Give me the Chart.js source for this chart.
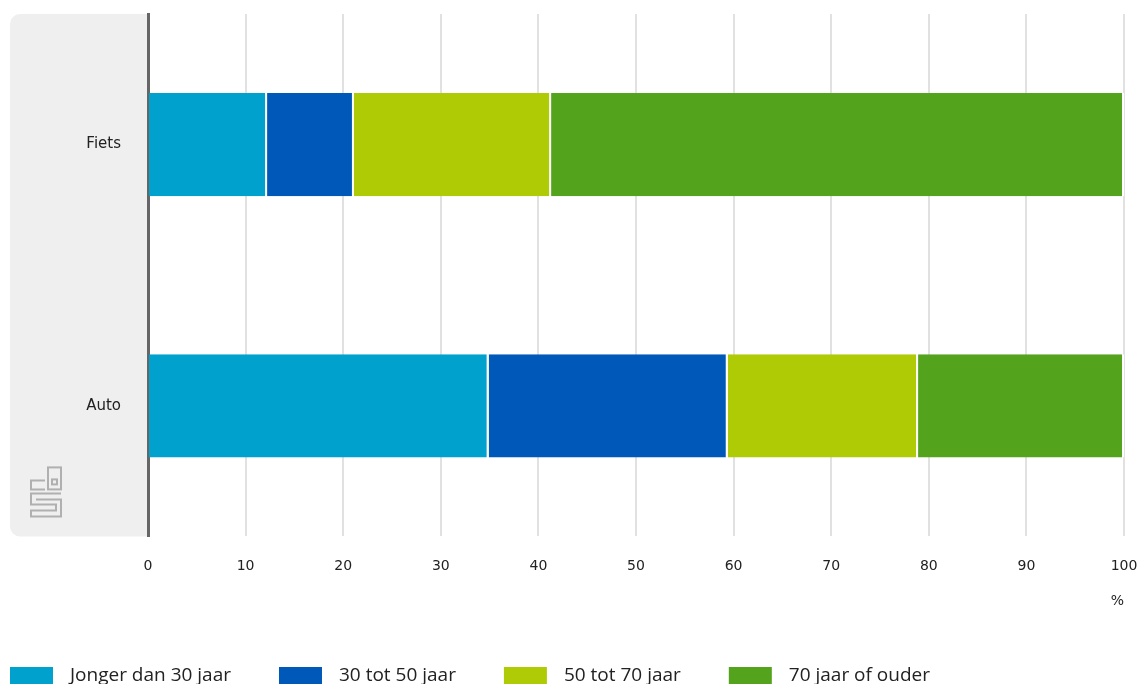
<!DOCTYPE html>
<html>
<head>
<meta charset="utf-8">
<script src="https://cdn.jsdelivr.net/npm/chart.js@4"></script>
<style>
  html, body { margin: 0; padding: 0; background: #fff; overflow: hidden; }
  #wrap { width: 1143px; height: 684px; }
</style>
</head>
<body>
<div id="wrap"><canvas id="chart"></canvas></div>
<script>
'use strict';

const categories = ['Fiets', 'Auto'];
const seriesNames = ['Jonger dan 30 jaar', '30 tot 50 jaar', '50 tot 70 jaar', '70 jaar of ouder'];
const jonger30 = [12.2, 34.9];
const tot50 = [8.9, 24.5];
const tot70 = [20.2, 19.5];
const ouder70 = [58.7, 21.1];
const colors = ['#00a1cd', '#0058b8', '#afcb05', '#53a31d'];
const xTicks = [0, 10, 20, 30, 40, 50, 60, 70, 80, 90, 100];

const values = [jonger30, tot50, tot70, ouder70];
const fontFamily = '"DejaVu Sans", sans-serif';

// grey panel behind the category labels plus the small logo
const panelPlugin = {
  id: 'panel',
  beforeDraw(chart) {
    const ctx = chart.ctx;
    const a = chart.chartArea;
    const x0 = 10, r = 10;
    ctx.save();
    ctx.fillStyle = '#efefef';
    ctx.beginPath();
    ctx.moveTo(a.left, a.top);
    ctx.lineTo(x0 + r, a.top);
    ctx.arcTo(x0, a.top, x0, a.top + r, r);
    ctx.lineTo(x0, a.bottom - r);
    ctx.arcTo(x0, a.bottom, x0 + r, a.bottom, r);
    ctx.lineTo(a.left, a.bottom);
    ctx.closePath();
    ctx.fill();

    // cbs logo, rough outline
    ctx.strokeStyle = '#b0b0b0';
    ctx.lineWidth = 2;
    const lx = 31, ly = a.bottom - 69;
    ctx.beginPath();
    ctx.moveTo(lx + 14, ly + 13);
    ctx.lineTo(lx, ly + 13);
    ctx.lineTo(lx, ly + 22);
    ctx.lineTo(lx + 14, ly + 22);
    ctx.stroke();
    ctx.strokeRect(lx + 17, ly, 13, 22);
    ctx.strokeRect(lx + 21, ly + 12, 5, 5);
    ctx.beginPath();
    ctx.moveTo(lx + 30, ly + 26);
    ctx.lineTo(lx, ly + 26);
    ctx.lineTo(lx, ly + 37);
    ctx.lineTo(lx + 25, ly + 37);
    ctx.lineTo(lx + 25, ly + 43);
    ctx.lineTo(lx, ly + 43);
    ctx.lineTo(lx, ly + 49);
    ctx.lineTo(lx + 30, ly + 49);
    ctx.lineTo(lx + 30, ly + 32);
    ctx.lineTo(lx + 5, ly + 32);
    ctx.stroke();
    ctx.restore();
  }
};

// legend along the bottom edge, spaced like the original
const legendPlugin = {
  id: 'bottomLegend',
  afterDraw(chart) {
    const ctx = chart.ctx;
    ctx.save();
    ctx.font = '19px "Open Sans", sans-serif';
    ctx.textBaseline = 'middle';
    ctx.textAlign = 'left';
    let x = 10;
    const y = 667;
    chart.data.datasets.forEach(ds => {
      ctx.fillStyle = ds.backgroundColor;
      ctx.fillRect(x, y, 43, 20);
      ctx.fillStyle = '#222';
      ctx.fillText(ds.label, x + 60, y + 9);
      x += 60 + ctx.measureText(ds.label).width + 48;
    });
    ctx.restore();
  }
};

const datasets = seriesNames.map((name, i) => ({
  label: name,
  data: values[i],
  backgroundColor: colors[i],
  borderColor: '#ffffff',
  borderWidth: { top: 0, bottom: 0, left: 0, right: 2 },
  borderSkipped: false,
  barPercentage: 0.79,
  categoryPercentage: 0.5
}));

new Chart(document.getElementById('chart'), {
  type: 'bar',
  data: { labels: categories, datasets: datasets },
  plugins: [panelPlugin, legendPlugin],
  options: {
    indexAxis: 'y',
    responsive: true,
    maintainAspectRatio: false,
    animation: false,
    layout: { padding: { left: 10, top: 14, right: 0, bottom: 74 } },
    scales: {
      x: {
        stacked: true,
        min: 0,
        max: 100,
        afterBuildTicks(axis) {
          axis.ticks = xTicks.map(v => ({ value: v }));
        },
        afterFit(axis) {
          axis.paddingRight = 19;
        },
        grid: { color: '#e1e1e1', lineWidth: 2, drawTicks: false },
        border: { display: false },
        ticks: {
          padding: 22,
          color: '#222',
          font: { family: fontFamily, size: 14 }
        },
        title: {
          display: true,
          text: '%',
          align: 'end',
          color: '#222',
          font: { family: fontFamily, size: 14 },
          padding: { top: -4, bottom: 0 }
        }
      },
      y: {
        stacked: true,
        afterFit(axis) {
          axis.width = 138;
          axis.paddingTop = 0;
          axis.paddingBottom = 0;
        },
        grid: { display: false },
        border: { display: true, color: '#666', width: 3 },
        ticks: {
          padding: 19,
          color: '#222',
          font: { family: fontFamily, size: 15 }
        }
      }
    },
    plugins: {
      legend: { display: false },
      tooltip: { enabled: false }
    }
  }
});
</script>
</body>
</html>
